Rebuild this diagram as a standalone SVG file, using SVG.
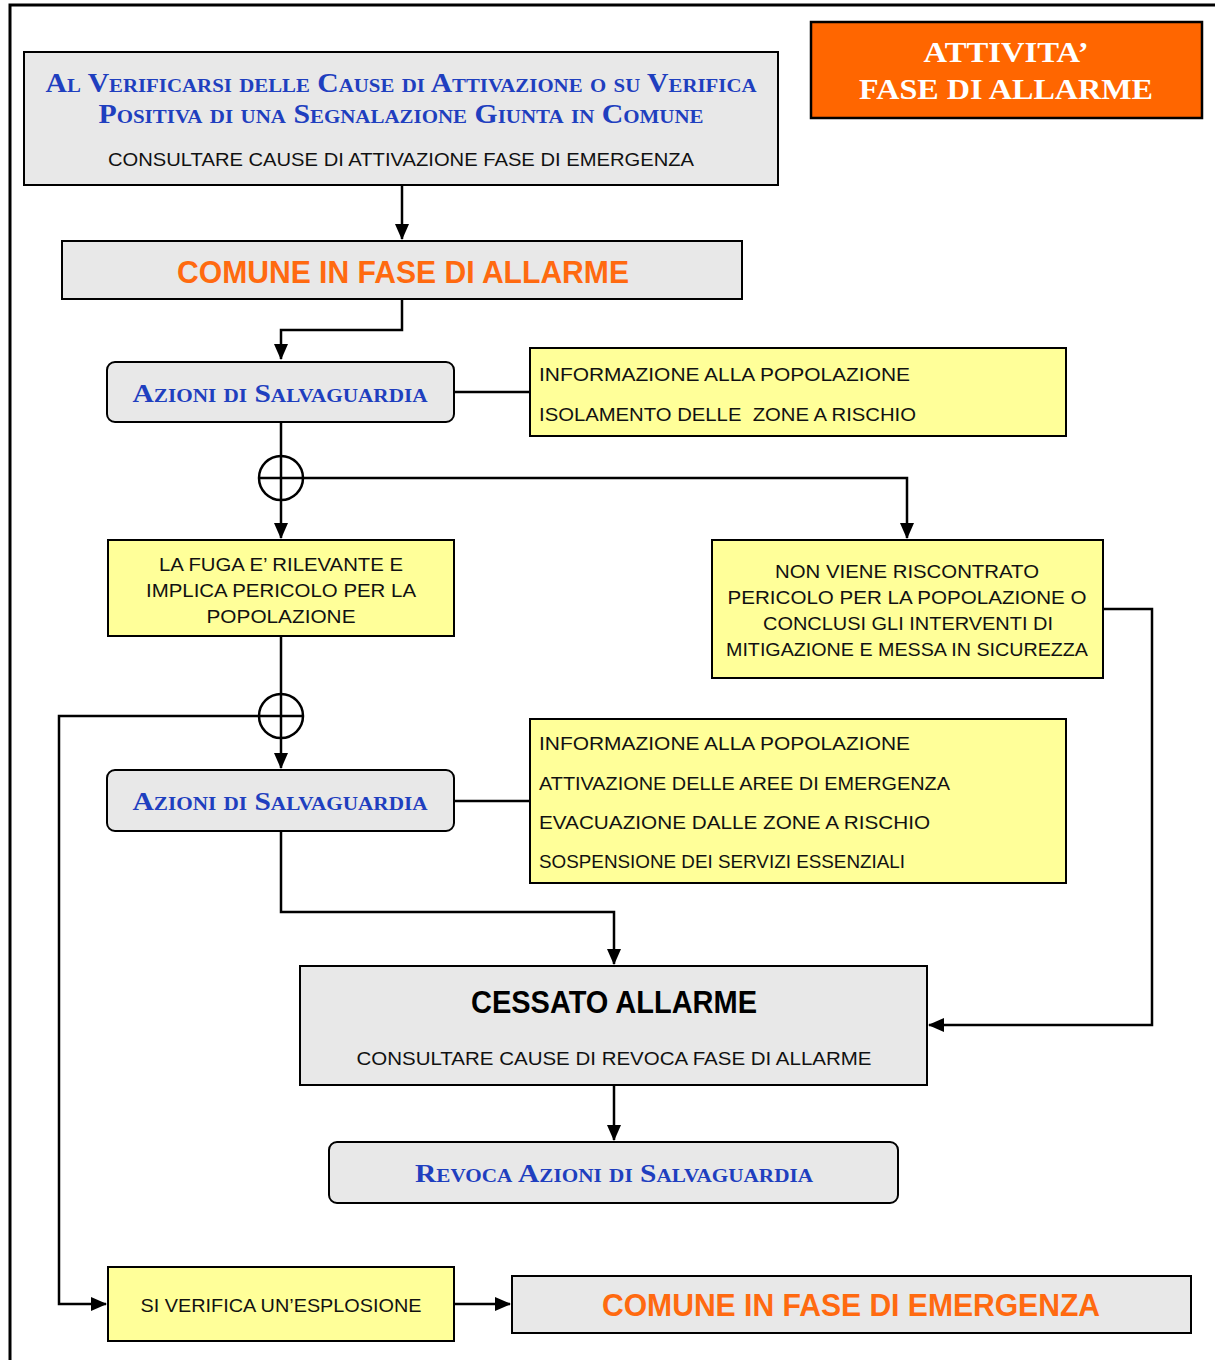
<svg xmlns="http://www.w3.org/2000/svg" width="1215" height="1360" viewBox="0 0 1215 1360">
  <style>
    .gray { fill: #E8E8E8; stroke: #000; stroke-width: 2; }
    .yel { fill: #FFFF99; stroke: #000; stroke-width: 2; }
    .body { font-family: "Liberation Sans", "DejaVu Sans", sans-serif; font-size: 19px; fill: #111; }
    .sc { font-family: "Liberation Serif", "Times New Roman", serif; font-weight: bold; font-variant: small-caps; fill: #1F3FBF; }
    .hot { font-family: "Liberation Sans", "DejaVu Sans", sans-serif; font-weight: bold; font-size: 31px; fill: #FF6A10; }
    .wire { fill: none; stroke: #000; stroke-width: 2.5; }
  </style>
  <defs>
    <marker id="arrow" markerUnits="userSpaceOnUse" markerWidth="16" markerHeight="16" viewBox="0 0 16 16" refX="15" refY="8" orient="auto">
      <path d="M0,1 L16,8 L0,15 Z" fill="#000"/>
    </marker>
  </defs>

  <rect width="1215" height="1360" fill="#fff"/>
  <!-- page frame -->
  <path d="M10,1360 V5 H1215" fill="none" stroke="#000" stroke-width="3"/>

  <!-- connectors -->
  <g id="connectors">
    <path class="wire" d="M402,185 V239" marker-end="url(#arrow)"/>
    <path class="wire" d="M402,299 V330 H281 V359" marker-end="url(#arrow)"/>
    <path class="wire" d="M454,392 H530"/>
    <path class="wire" d="M281,422 V538" marker-end="url(#arrow)"/>
    <path class="wire" d="M281,478 H907 V538" marker-end="url(#arrow)"/>
    <circle cx="281" cy="478" r="22" fill="none" stroke="#000" stroke-width="2.5"/>
    <line x1="259" y1="478" x2="281" y2="478" stroke="#000" stroke-width="2.5"/>
    <path class="wire" d="M1103,609 H1152 V1025 H929" marker-end="url(#arrow)"/>
    <path class="wire" d="M281,636 V768" marker-end="url(#arrow)"/>
    <circle cx="281" cy="716" r="22" fill="none" stroke="#000" stroke-width="2.5"/>
    <path class="wire" d="M303,716 H59 V1304 H106" marker-end="url(#arrow)"/>
    <path class="wire" d="M454,801 H530"/>
    <path class="wire" d="M281,831 V912 H614 V964" marker-end="url(#arrow)"/>
    <path class="wire" d="M614,1085 V1140" marker-end="url(#arrow)"/>
    <path class="wire" d="M454,1304 H510" marker-end="url(#arrow)"/>
  </g>

  <g id="title">
    <rect x="811" y="22" width="391" height="96" fill="#FF6600" stroke="#000" stroke-width="2.5"/>
    <text x="1006" y="62" text-anchor="middle" font-family="Liberation Serif, serif" font-weight="bold" font-size="30" fill="#fff" textLength="165" lengthAdjust="spacingAndGlyphs">ATTIVITA’</text>
    <text x="1006" y="99" text-anchor="middle" font-family="Liberation Serif, serif" font-weight="bold" font-size="30" fill="#fff" textLength="294" lengthAdjust="spacingAndGlyphs">FASE DI ALLARME</text>
  </g>

  <g id="start">
    <rect class="gray" x="24" y="52" width="754" height="133"/>
    <text class="sc" x="401" y="92" text-anchor="middle" font-size="27" textLength="711" lengthAdjust="spacingAndGlyphs">Al Verificarsi delle Cause di Attivazione o su Verifica</text>
    <text class="sc" x="401" y="123" text-anchor="middle" font-size="27" textLength="605" lengthAdjust="spacingAndGlyphs">Positiva di una Segnalazione Giunta in Comune</text>
    <text class="body" x="401" y="166" text-anchor="middle" textLength="586" lengthAdjust="spacingAndGlyphs">CONSULTARE CAUSE DI ATTIVAZIONE FASE DI EMERGENZA</text>
  </g>

  <g id="comune-allarme">
    <rect class="gray" x="62" y="241" width="680" height="58"/>
    <text class="hot" x="403" y="283" text-anchor="middle" textLength="452" lengthAdjust="spacingAndGlyphs">COMUNE IN FASE DI ALLARME</text>
  </g>

  <g id="azioni-1">
    <rect class="gray" x="107" y="362" width="347" height="60" rx="8"/>
    <text class="sc" x="280" y="402" text-anchor="middle" font-size="25" textLength="295" lengthAdjust="spacingAndGlyphs">Azioni di Salvaguardia</text>
  </g>

  <g id="misure-1">
    <rect class="yel" x="530" y="348" width="536" height="88"/>
    <text class="body" x="539" y="381" textLength="371" lengthAdjust="spacingAndGlyphs">INFORMAZIONE ALLA POPOLAZIONE</text>
    <text class="body" x="539" y="421" textLength="377" lengthAdjust="spacingAndGlyphs" xml:space="preserve">ISOLAMENTO DELLE  ZONE A RISCHIO</text>
  </g>

  <g id="fuga">
    <rect class="yel" x="108" y="540" width="346" height="96"/>
    <text class="body" x="281" y="571" text-anchor="middle" textLength="244" lengthAdjust="spacingAndGlyphs">LA FUGA E’ RILEVANTE E</text>
    <text class="body" x="281" y="597" text-anchor="middle" textLength="270" lengthAdjust="spacingAndGlyphs">IMPLICA PERICOLO PER LA</text>
    <text class="body" x="281" y="623" text-anchor="middle" textLength="149" lengthAdjust="spacingAndGlyphs">POPOLAZIONE</text>
  </g>

  <g id="nessun-pericolo">
    <rect class="yel" x="712" y="540" width="391" height="138"/>
    <text class="body" x="907" y="578" text-anchor="middle" textLength="264" lengthAdjust="spacingAndGlyphs">NON VIENE RISCONTRATO</text>
    <text class="body" x="907" y="604" text-anchor="middle" textLength="359" lengthAdjust="spacingAndGlyphs">PERICOLO PER LA POPOLAZIONE O</text>
    <text class="body" x="908" y="630" text-anchor="middle" textLength="290" lengthAdjust="spacingAndGlyphs">CONCLUSI GLI INTERVENTI DI</text>
    <text class="body" x="907" y="656" text-anchor="middle" textLength="362" lengthAdjust="spacingAndGlyphs">MITIGAZIONE E MESSA IN SICUREZZA</text>
  </g>

  <g id="azioni-2">
    <rect class="gray" x="107" y="770" width="347" height="61" rx="8"/>
    <text class="sc" x="280" y="810" text-anchor="middle" font-size="25" textLength="295" lengthAdjust="spacingAndGlyphs">Azioni di Salvaguardia</text>
  </g>

  <g id="misure-2">
    <rect class="yel" x="530" y="719" width="536" height="164"/>
    <text class="body" x="539" y="750" textLength="371" lengthAdjust="spacingAndGlyphs">INFORMAZIONE ALLA POPOLAZIONE</text>
    <text class="body" x="539" y="790" textLength="411" lengthAdjust="spacingAndGlyphs">ATTIVAZIONE DELLE AREE DI EMERGENZA</text>
    <text class="body" x="539" y="829" textLength="391" lengthAdjust="spacingAndGlyphs">EVACUAZIONE DALLE ZONE A RISCHIO</text>
    <text class="body" x="539" y="868" textLength="366" lengthAdjust="spacingAndGlyphs">SOSPENSIONE DEI SERVIZI ESSENZIALI</text>
  </g>

  <g id="cessato">
    <rect class="gray" x="300" y="966" width="627" height="119"/>
    <text x="614" y="1013" text-anchor="middle" font-family="Liberation Sans, sans-serif" font-weight="bold" font-size="31" fill="#000" textLength="286" lengthAdjust="spacingAndGlyphs">CESSATO ALLARME</text>
    <text class="body" x="614" y="1065" text-anchor="middle" textLength="515" lengthAdjust="spacingAndGlyphs">CONSULTARE CAUSE DI REVOCA FASE DI ALLARME</text>
  </g>

  <g id="revoca">
    <rect class="gray" x="329" y="1142" width="569" height="61" rx="8"/>
    <text class="sc" x="614" y="1182" text-anchor="middle" font-size="25" textLength="398" lengthAdjust="spacingAndGlyphs">Revoca Azioni di Salvaguardia</text>
  </g>

  <g id="esplosione">
    <rect class="yel" x="108" y="1267" width="346" height="74"/>
    <text class="body" x="281" y="1312" text-anchor="middle" textLength="281" lengthAdjust="spacingAndGlyphs">SI VERIFICA UN’ESPLOSIONE</text>
  </g>

  <g id="comune-emergenza">
    <rect class="gray" x="512" y="1276" width="679" height="57"/>
    <text class="hot" x="851" y="1316" text-anchor="middle" textLength="498" lengthAdjust="spacingAndGlyphs">COMUNE IN FASE DI EMERGENZA</text>
  </g>
</svg>
